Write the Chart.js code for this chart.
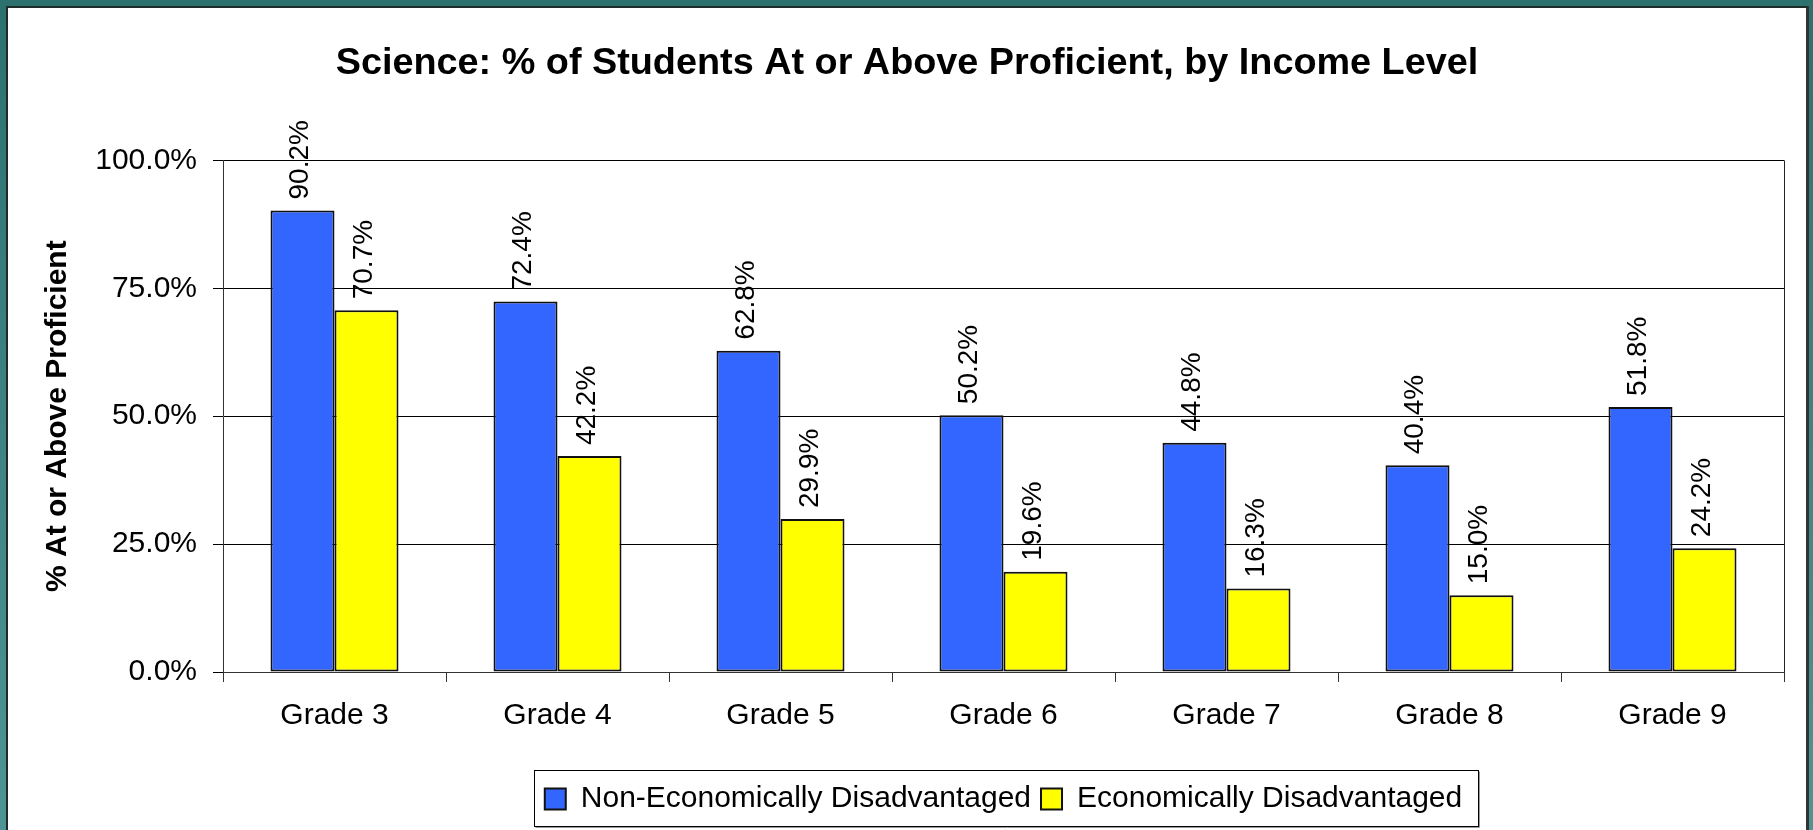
<!DOCTYPE html>
<html>
<head>
<meta charset="utf-8">
<script src="https://cdn.jsdelivr.net/npm/chart.js@4/dist/chart.umd.min.js"></script>
<style>
  html, body { margin: 0; padding: 0; }
  body {
    width: 1813px; height: 830px; overflow: hidden;
    background: linear-gradient(to bottom, #2d716f, #4f9494);
    position: relative;
  }
  #panel {
    position: absolute; left: 6px; top: 6px;
    width: 1798px; height: 840px;
    background: #fff;
    border-left: 2px solid #1e2b2b;
    border-top: 2px solid #1e2b2b;
    border-right: 3px solid #333;
  }
  #wrap { position: absolute; left: 0; top: 0; width: 1798px; height: 822px; }
</style>
</head>
<body>
<div id="panel"><div id="wrap"><canvas id="myChart"></canvas></div></div>
<script>
// chart data
var grades = ['Grade 3', 'Grade 4', 'Grade 5', 'Grade 6', 'Grade 7', 'Grade 8', 'Grade 9'];
var nonDisadvantaged = [90.2, 72.4, 62.8, 50.2, 44.8, 40.4, 51.8];
var disadvantaged = [70.7, 42.2, 29.9, 19.6, 16.3, 15.0, 24.2];
var seriesNames = ['Non-Economically Disadvantaged', 'Economically Disadvantaged'];
var yTicks = [0, 25, 50, 75, 100];

var FONT = '"Liberation Sans", Arial, sans-serif';

// value labels, rotated, above each bar
var barLabels = {
    id: 'barLabels',
    afterDatasetsDraw: function(chart) {
        var ctx = chart.ctx;
        ctx.save();
        ctx.font = '28px ' + FONT;
        ctx.fillStyle = '#000';
        ctx.textAlign = 'left';
        ctx.textBaseline = 'middle';
        chart.data.datasets.forEach(function(ds, i) {
            chart.getDatasetMeta(i).data.forEach(function(bar, j) {
                ctx.save();
                ctx.translate(bar.x - 2, bar.y - 11);
                ctx.rotate(-Math.PI / 2);
                ctx.fillText(ds.data[j].toFixed(1) + '%', 0, 0);
                ctx.restore();
            });
        });
        ctx.restore();
    }
};

// right edge of the plot + box around the legend
var frames = {
    id: 'frames',
    afterDraw: function(chart) {
        var ctx = chart.ctx;
        var a = chart.chartArea;
        ctx.save();
        ctx.strokeStyle = '#222';
        ctx.lineWidth = 1;
        ctx.beginPath();
        ctx.moveTo(Math.round(a.right) + 0.5, a.top);
        ctx.lineTo(Math.round(a.right) + 0.5, a.bottom);
        ctx.stroke();

        var hb = chart.legend.legendHitBoxes;
        if (hb && hb.length) {
            var first = hb[0], last = hb[hb.length - 1];
            var cy = first.top + first.height / 2;
            var x0 = Math.round(first.left - 11) + 0.5;
            var x1 = Math.round(last.left + last.width + 16) + 0.5;
            var y0 = Math.round(cy - 29) + 0.5;
            var y1 = Math.round(cy + 27) + 0.5;
            ctx.strokeStyle = '#000';
            ctx.strokeRect(x0, y0, x1 - x0, y1 - y0);
            ctx.strokeStyle = '#999';
            ctx.beginPath();
            ctx.moveTo(x0 + 1, y1 + 1);
            ctx.lineTo(x1 + 1, y1 + 1);
            ctx.lineTo(x1 + 1, y0 + 1);
            ctx.stroke();
        }
        ctx.restore();
    }
};

window.onload = function() {
    var ctx = document.getElementById('myChart').getContext('2d');
    var myChart = new Chart(ctx, {
        type: 'bar',
        data: {
            labels: grades,
            datasets: [{
                label: seriesNames[0],
                data: nonDisadvantaged,
                backgroundColor: '#3366ff',
                borderColor: '#111',
                borderWidth: 2,
                borderSkipped: false
            }, {
                label: seriesNames[1],
                data: disadvantaged,
                backgroundColor: '#ffff00',
                borderColor: '#111',
                borderWidth: 2,
                borderSkipped: false
            }]
        },
        options: {
            responsive: true,
            maintainAspectRatio: false,
            animation: false,
            devicePixelRatio: 1,
            categoryPercentage: 0.574,
            barPercentage: 1.0,
            layout: { padding: { left: 22, right: 22, top: 0, bottom: 6 } },
            plugins: {
                title: {
                    display: true,
                    text: 'Science: % of Students At or Above Proficient, by Income Level',
                    color: '#000',
                    font: { family: FONT, size: 37.8, weight: 'bold' },
                    padding: { top: 33, bottom: 74 }
                },
                legend: {
                    position: 'bottom',
                    fullSize: false,
                    labels: {
                        color: '#000',
                        font: { family: FONT, size: 30 },
                        boxWidth: 21,
                        boxHeight: 21,
                        padding: 10
                    }
                },
                tooltip: { enabled: false }
            },
            scales: {
                x: {
                    grid: {
                        display: true,
                        drawOnChartArea: false,
                        offset: true,
                        tickLength: 10,
                        color: '#333'
                    },
                    border: { color: '#333', width: 1 },
                    ticks: {
                        color: '#000',
                        font: { family: FONT, size: 30 },
                        padding: 16,
                        maxRotation: 0
                    },
                    afterFit: function(scale) { scale.height = 102; }
                },
                y: {
                    min: 0,
                    max: 100,
                    afterBuildTicks: function(scale) {
                        scale.ticks = yTicks.map(function(v) { return { value: v }; });
                    },
                    grid: { color: '#000', lineWidth: 1, tickLength: 10 },
                    border: { color: '#333', width: 1 },
                    ticks: {
                        color: '#000',
                        font: { family: FONT, size: 30 },
                        padding: 16,
                        callback: function(v) { return v.toFixed(1) + '%'; }
                    },
                    title: {
                        display: true,
                        text: '% At or Above Proficient',
                        color: '#000',
                        font: { family: FONT, size: 30, weight: 'bold' },
                        padding: { top: 10, bottom: 0 }
                    },
                    afterFit: function(scale) { scale.width = 193; }
                }
            }
        },
        plugins: [barLabels, frames]
    });
};
</script>
</body>
</html>
